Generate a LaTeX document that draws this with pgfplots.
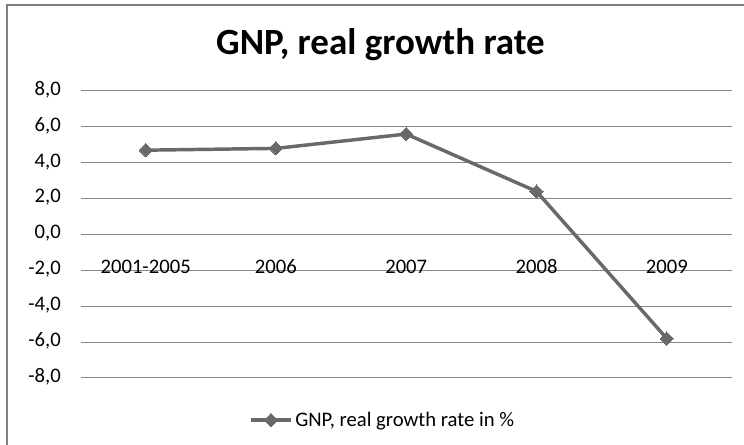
\documentclass[border=0pt]{standalone}
\usepackage{pgfplots}
\pgfplotsset{compat=1.18}
\usepackage{fontspec}
\setmainfont{Carlito}
\definecolor{serie}{RGB}{105,105,105}
\definecolor{gridc}{RGB}{134,134,134}
\definecolor{framec}{RGB}{128,128,128}
\begin{document}
\begin{tikzpicture}
\begin{axis}[
  at={(60.375pt,-283.5pt)}, anchor=south west,
  scale only axis, width=488.6pt, height=215.25pt,
  xmin=-0.5, xmax=4.5, ymin=-8, ymax=8,
  axis line style={draw=none},
  major tick length=0pt,
  xtick={0,1,2,3,4},
  xticklabels={2001-2005,2006,2007,2008,2009},
  ytick={-8,-6,-4,-2,0,2,4,6,8},
  yticklabels={{-8,0},{-6,0},{-4,0},{-2,0},{0,0},{2,0},{4,0},{6,0},{8,0}},
  ymajorgrids,
  major grid style={gridc, line width=0.75pt},
  ticklabel style={font=\fontsize{15.5}{18}\selectfont, inner sep=0pt},
  xticklabel style={anchor=base, yshift=78pt},
  yticklabel style={anchor=base east, xshift=-14.6pt, yshift=-0.32em},
  clip=false,
  legend style={at={(0.4643,-0.1463)}, anchor=center, draw=none, fill=none,
    font=\fontsize{15.5}{18}\selectfont},
  legend image code/.code={\draw[mark repeat=2,mark phase=2] plot coordinates {(0pt,0pt) (15pt,0pt) (30pt,0pt)};},
]
\addplot[serie, line width=2.6pt, mark=square*, mark size=3.5pt,
  mark options={rotate=45, solid, line width=0pt, fill=serie}]
  coordinates {(0,4.7) (1,4.8) (2,5.6) (3,2.4) (4,-5.8)};
\addlegendentry{GNP, real growth rate in \%}
\end{axis}
\node[anchor=base, inner sep=0pt, font=\fontsize{27.75}{32}\selectfont\bfseries] at (285.4pt,-41.25pt) {GNP, real growth rate};
\draw[framec, line width=1.5pt] (4.9pt,-340pt) -- (4.9pt,-4.1pt) -- (565pt,-4.1pt);
\pgfresetboundingbox
\useasboundingbox (0pt,0pt) rectangle (558pt,-333.75pt);
\end{tikzpicture}
\end{document}
